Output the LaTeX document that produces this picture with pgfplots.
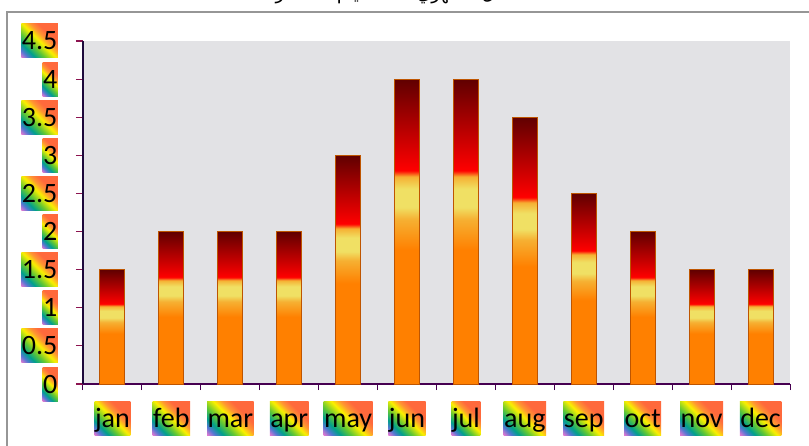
\documentclass[border=0pt]{standalone}
\usepackage{fontspec}
\setmainfont{Carlito}
\newfontfamily\arabicfont[Script=Arabic]{DejaVu Sans}
\TeXXeTstate=1
\usepackage{pgfplots}
\pgfplotsset{compat=1.18}

\definecolor{marble}{RGB}{226,226,229}
\definecolor{barorange}{RGB}{255,128,0}
\definecolor{baryellow}{RGB}{240,224,100}
\definecolor{barmid}{RGB}{246,176,50}
\definecolor{barred}{RGB}{255,0,0}
\definecolor{bardark}{RGB}{96,0,0}
\definecolor{baredge}{RGB}{190,85,0}
\definecolor{axisdark}{RGB}{30,10,60}
\definecolor{axispurple}{RGB}{70,0,80}
\definecolor{tickpink}{RGB}{140,20,80}
\definecolor{framegray}{RGB}{150,150,150}

% bar fill: fraction f of the bar height sits at 25+50f bp
\pgfdeclareverticalshading{barshade}{100bp}{%
  color(0bp)=(barorange); color(47bp)=(barorange);
  color(52bp)=(barmid); color(54bp)=(baryellow); color(57bp)=(baryellow);
  color(59bp)=(barmid); color(60bp)=(barred);
  color(75bp)=(bardark); color(100bp)=(bardark)}

% tick label boxes, diagonal rainbow
\definecolor{rbpink}{RGB}{225,120,210}
\definecolor{rbblue}{RGB}{80,120,210}
\definecolor{rbteal}{RGB}{0,160,140}
\definecolor{rbgreen}{RGB}{100,200,50}
\definecolor{rbyellow}{RGB}{250,240,0}
\definecolor{rborange}{RGB}{255,150,50}
\definecolor{rbred}{RGB}{255,105,60}
\pgfdeclarehorizontalshading{rainbow}{100bp}{%
  color(0bp)=(rbpink); color(15bp)=(rbpink); color(22bp)=(rbblue);
  color(29bp)=(rbteal); color(39bp)=(rbgreen); color(50bp)=(rbyellow);
  color(58bp)=(rborange); color(66bp)=(rbred); color(100bp)=(rbred)}

\begin{document}
\begin{tikzpicture}[
  monthbar/.style={ybar, shade, shading=barshade, draw=baredge, line width=1pt},
]
\useasboundingbox (0,0) rectangle (809pt,445pt);
\clip (0,0) rectangle (809pt,445pt);

% outer frame
\draw[framegray, line width=2pt] (7pt,-2pt) -- (7pt,433pt) -- (812pt,433pt);

% title, mostly outside the picture
\node[anchor=base, font=\fontsize{18}{22}\selectfont] at (400pt,445pt)
  {\arabicfont\beginR المعدل الشهري لعدد الأيام الممطرة\endR};

\begin{axis}[
  at={(83pt,61pt)}, anchor=south west,
  scale only axis, width=707pt, height=343pt,
  xmin=-0.5, xmax=11.5,
  ymin=0, ymax=4.5,
  ytick={0,0.5,...,4.5},
  xtick={0,...,11},
  xticklabels={jan,feb,mar,apr,may,jun,jul,aug,sep,oct,nov,dec},
  minor xtick={-0.5,0.5,...,11.5},
  major x tick style={draw=none},
  minor x tick style={axispurple, line width=1pt},
  minor tick length=6pt,
  y tick style={tickpink, line width=1.2pt},
  major tick length=7pt,
  tick align=outside,
  axis x line*=bottom, axis y line*=left,
  x axis line style={-, axispurple, line width=2pt},
  y axis line style={-, axisdark, line width=1.5pt},
  axis background/.style={fill=marble},
  /pgf/number format/assume math mode=true,
  every tick label/.append style={
    font=\fontsize{28}{33}\selectfont, text=black,
    shade, shading=rainbow, shading angle=45,
    inner xsep=0.5pt, inner ysep=0pt, text height=26pt, text depth=8pt},
  xticklabel style={yshift=-10pt},
  yticklabel style={xshift=-18pt},
  ybar, bar width=25pt, bar shift=0pt,
  clip=false,
]
% one plot per month, so that each bar gets its own shading
\addplot[monthbar] coordinates {(0,1.5)};  % jan
\addplot[monthbar] coordinates {(1,2)};    % feb
\addplot[monthbar] coordinates {(2,2)};    % mar
\addplot[monthbar] coordinates {(3,2)};    % apr
\addplot[monthbar] coordinates {(4,3)};    % may
\addplot[monthbar] coordinates {(5,4)};    % jun
\addplot[monthbar] coordinates {(6,4)};    % jul
\addplot[monthbar] coordinates {(7,3.5)};  % aug
\addplot[monthbar] coordinates {(8,2.5)};  % sep
\addplot[monthbar] coordinates {(9,2)};    % oct
\addplot[monthbar] coordinates {(10,1.5)}; % nov
\addplot[monthbar] coordinates {(11,1.5)}; % dec
\end{axis}
\end{tikzpicture}
\end{document}
